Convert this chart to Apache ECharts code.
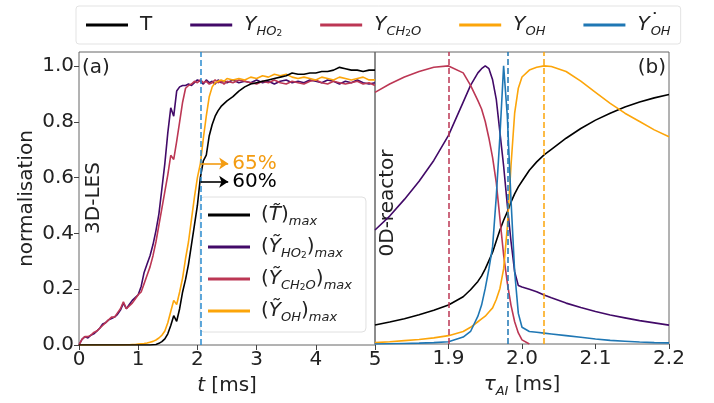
<!DOCTYPE html>
<html>
<head>
<meta charset="utf-8">
<script src="https://cdn.jsdelivr.net/npm/echarts@6/dist/echarts.min.js"></script>
<style>
  html, body { margin: 0; padding: 0; background: #fff; }
  #chart { width: 714px; height: 403px; }
</style>
</head>
<body>
<div id="chart"></div>
<script>
// ---- (a) 3D-LES: maxima of filtered fields vs time [ms] ----
const tLes = [
  0, 0.05, 0.1, 0.15, 0.2, 0.25, 0.3, 0.35, 0.4, 0.45,
  0.5, 0.55, 0.6, 0.65, 0.7, 0.75, 0.8, 0.85, 0.9, 0.95,
  1.0, 1.05, 1.1, 1.15, 1.2, 1.25, 1.3, 1.35, 1.4, 1.45,
  1.5, 1.55, 1.6, 1.65, 1.7, 1.75, 1.8, 1.85, 1.9, 1.95,
  2.0, 2.05, 2.1, 2.15, 2.2, 2.25, 2.3, 2.35, 2.4, 2.45,
  2.5, 2.6, 2.7, 2.8, 2.9, 3.0, 3.1, 3.2, 3.3, 3.4,
  3.5, 3.6, 3.7, 3.8, 3.9, 4.0, 4.1, 4.2, 4.3, 4.4,
  4.5, 4.6, 4.7, 4.8, 4.9, 5.0
];
const tempLes = [
  0, 0, 0, 0, 0, 0, 0, 0, 0, 0,
  0, 0, 0, 0, 0, 0, 0, 0, 0, 0,
  0, 0, 0, 0, 0, 0.001, 0.002, 0.006, 0.012, 0.022,
  0.04, 0.07, 0.105, 0.085, 0.13, 0.19, 0.235, 0.29, 0.36, 0.43,
  0.50, 0.60, 0.66, 0.68, 0.75, 0.79, 0.82, 0.84, 0.855, 0.865,
  0.875, 0.89, 0.91, 0.925, 0.935, 0.94, 0.945, 0.95, 0.955, 0.96,
  0.965, 0.975, 0.97, 0.97, 0.975, 0.975, 0.98, 0.98, 0.985, 0.995,
  0.99, 0.985, 0.985, 0.98, 0.985, 0.985
];
const ho2Les = [
  0, 0.02, 0.03, 0.025, 0.035, 0.04, 0.05, 0.06, 0.075, 0.08,
  0.09, 0.095, 0.10, 0.11, 0.125, 0.15, 0.13, 0.145, 0.16, 0.17,
  0.18, 0.21, 0.26, 0.29, 0.32, 0.36, 0.41, 0.47, 0.56, 0.65,
  0.76, 0.85, 0.82, 0.91, 0.925, 0.93, 0.93, 0.935, 0.93, 0.94,
  0.95, 0.945, 0.935, 0.95, 0.94, 0.945, 0.935, 0.95, 0.94, 0.945,
  0.94, 0.95, 0.94, 0.945, 0.94, 0.95, 0.94, 0.945, 0.935, 0.945,
  0.95, 0.94, 0.945, 0.94, 0.95, 0.945, 0.94, 0.95, 0.945, 0.935,
  0.945, 0.94, 0.95, 0.94, 0.935, 0.94
];
const ch2oLes = [
  0, 0.02, 0.03, 0.03, 0.035, 0.045, 0.05, 0.06, 0.07, 0.08,
  0.09, 0.10, 0.10, 0.115, 0.13, 0.155, 0.13, 0.14, 0.15, 0.165,
  0.18, 0.19, 0.22, 0.25, 0.28, 0.32, 0.37, 0.43, 0.49, 0.55,
  0.61, 0.68, 0.665, 0.73, 0.80, 0.87, 0.92, 0.93, 0.935, 0.945,
  0.94, 0.95, 0.94, 0.945, 0.935, 0.94, 0.95, 0.94, 0.945, 0.935,
  0.945, 0.94, 0.95, 0.945, 0.94, 0.935, 0.945, 0.94, 0.95, 0.94,
  0.935, 0.945, 0.94, 0.935, 0.945, 0.95, 0.94, 0.935, 0.945, 0.94,
  0.935, 0.94, 0.945, 0.935, 0.94, 0.93
];
const ohLes = [
  0, 0, 0, 0, 0, 0, 0, 0, 0, 0,
  0, 0, 0, 0, 0, 0, 0.001, 0.001, 0.002, 0.002,
  0.003, 0.004, 0.005, 0.007, 0.01, 0.013, 0.018, 0.025, 0.035, 0.05,
  0.08, 0.12, 0.16, 0.145, 0.19, 0.24, 0.31, 0.37, 0.45, 0.53,
  0.60, 0.65, 0.74, 0.82, 0.89, 0.925, 0.94, 0.945, 0.95, 0.945,
  0.955, 0.95, 0.955, 0.95, 0.96, 0.955, 0.965, 0.96, 0.97, 0.965,
  0.97, 0.96, 0.955, 0.96, 0.955, 0.95, 0.96, 0.955, 0.95, 0.96,
  0.955, 0.95, 0.955, 0.96, 0.95, 0.95
];
const tIgnLes = 2.05;          // vertical marker in (a)
const pctOH = 0.65;            // OH level at the marker
const pctT = 0.60;             // temperature level at the marker

// ---- (b) 0D reactor: normalised profiles vs auto-ignition time [ms] ----
const tauAI = [
  1.80, 1.82, 1.84, 1.86, 1.88, 1.90, 1.92, 1.93, 1.94, 1.945,
  1.95, 1.955, 1.96, 1.965, 1.97, 1.975, 1.98, 1.985, 1.99, 1.995,
  2.00, 2.01, 2.02, 2.03, 2.04, 2.06, 2.08, 2.10, 2.12, 2.14,
  2.16, 2.18, 2.20
];
const temp0D = [
  0.068, 0.079, 0.091, 0.105, 0.121, 0.14, 0.17, 0.195, 0.225, 0.245,
  0.27, 0.30, 0.33, 0.37, 0.41, 0.445, 0.475, 0.51, 0.54, 0.565,
  0.585, 0.625, 0.655, 0.68, 0.70, 0.74, 0.775, 0.805, 0.83, 0.852,
  0.87, 0.885, 0.897
];
const ho20D = [
  0.41, 0.46, 0.52, 0.585, 0.66, 0.75, 0.87, 0.93, 0.975, 0.99,
  1.0, 0.99, 0.95, 0.88, 0.76, 0.64, 0.50, 0.37, 0.26, 0.21,
  0.205, 0.197, 0.188, 0.176, 0.166, 0.147, 0.131, 0.117, 0.104, 0.094,
  0.084, 0.076, 0.068
];
const ch2o0D = [
  0.905, 0.935, 0.96, 0.98, 0.995, 1.0, 0.975, 0.93, 0.875, 0.845,
  0.80, 0.74, 0.67, 0.58, 0.45, 0.32, 0.22, 0.14, 0.08, 0.04,
  0.015, 0.0, null, null, null, null, null, null, null, null,
  null, null, null
];
const oh0D = [
  0.005, 0.008, 0.012, 0.016, 0.022, 0.03, 0.045, 0.06, 0.08, 0.09,
  0.10, 0.115, 0.13, 0.16, 0.20, 0.27, 0.42, 0.64, 0.83, 0.92,
  0.96, 0.985, 0.995, 1.0, 0.998, 0.98, 0.945, 0.905, 0.865, 0.83,
  0.80, 0.77, 0.745
];
const ohStar0D = [
  0.0, 0.001, 0.002, 0.003, 0.005, 0.008, 0.025, 0.045, 0.10, 0.14,
  0.20, 0.27, 0.35, 0.53, 0.75, 1.0, 0.82, 0.52, 0.26, 0.11,
  0.06, 0.045, 0.042, 0.039, 0.036, 0.03, 0.024, 0.018, 0.013, 0.01,
  0.007, 0.005, 0.004
];
const peakCH2O = 1.9, peakOHstar = 1.975, peakOH = 2.03;

// ---- tick labels ----
const yTicks = [0, 0.2, 0.4, 0.6, 0.8, 1.0];
const xTicksB = [1.9, 2.0, 2.1, 2.2];

const F = 'DejaVu Sans';
const C = { T: '#000000', HO2: '#420a68', CH2O: '#bc3754', OH: '#fca50a', OHs: '#1f77b4' };

const rich = {
  up:   { fontFamily: F, fontSize: 20, lineHeight: 26, color: '#222' },
  it:   { fontFamily: F, fontSize: 20, lineHeight: 26, fontStyle: 'italic', color: '#222' },
  sub:  { fontFamily: F, fontSize: 13, lineHeight: 14, fontStyle: 'italic', verticalAlign: 'bottom', color: '#222' },
  sub2: { fontFamily: F, fontSize: 9, lineHeight: 10, verticalAlign: 'bottom', color: '#222' },
  dot:  { fontFamily: F, fontSize: 20, lineHeight: 20, width: 1, verticalAlign: 'top', color: '#222' }
};

const labels = {
  'T': '{up|T}',
  'HO2': '{it|Y}{sub|HO}{sub2|2}',
  'CH2O': '{it|Y}{sub|CH}{sub2|2}{sub|O}',
  'OH': '{it|Y}{sub|OH}',
  'OHs': '{it|Y}{dot|˙}{sub|OH}',
  'T_les': '{up|(}{it|T\u0303}{up|)}{sub|max}',
  'HO2_les': '{up|(}{it|\u1EF8}{sub|HO}{sub2|2}{up|)}{sub|max}',
  'CH2O_les': '{up|(}{it|\u1EF8}{sub|CH}{sub2|2}{sub|O}{up|)}{sub|max}',
  'OH_les': '{up|(}{it|\u1EF8}{sub|OH}{up|)}{sub|max}'
};

const pairs = (xs, ys) => xs.map((x, i) => [x, ys[i]]);

function lineSeries(name, color, xs, ys, axis, extra) {
  return Object.assign({
    name: name, type: 'line', xAxisIndex: axis, yAxisIndex: axis,
    data: pairs(xs, ys), symbol: 'none', showSymbol: false, connectNulls: false,
    lineStyle: { color: color, width: 1.6 }, itemStyle: { color: color },
    emphasis: { disabled: true }
  }, extra || {});
}

function vLine(x, color) {
  return {
    symbol: 'none', silent: true, animation: false,
    label: { show: false },
    lineStyle: { color: color, type: 'dashed', width: 1.5 },
    data: [{ xAxis: x }]
  };
}

function arrow(y, text, color) {
  return {
    symbol: ['none', 'arrow'], symbolSize: 9, silent: true, animation: false,
    lineStyle: { color: color, type: 'solid', width: 1.6 },
    label: { show: true, position: 'end', formatter: text, color: color, fontSize: 20, fontFamily: F, distance: 4 },
    data: [[{ coord: [tIgnLes, y] }, { coord: [tIgnLes + 0.47, y] }]]
  };
}

const series = [
  lineSeries('HO2_les', C.HO2, tLes, ho2Les, 0, { markLine: vLine(tIgnLes, '#2b8cd0') }),
  lineSeries('CH2O_les', C.CH2O, tLes, ch2oLes, 0),
  lineSeries('OH_les', C.OH, tLes, ohLes, 0, { markLine: arrow(pctOH, '65%', '#f39c12') }),
  lineSeries('T_les', C.T, tLes, tempLes, 0, { markLine: arrow(pctT - 0.015, '60%', '#000') }),

  lineSeries('T', C.T, tauAI, temp0D, 1),
  lineSeries('HO2', C.HO2, tauAI, ho20D, 1),
  lineSeries('CH2O', C.CH2O, tauAI, ch2o0D, 1, { markLine: vLine(peakCH2O, C.CH2O) }),
  lineSeries('OH', C.OH, tauAI, oh0D, 1, { markLine: vLine(peakOH, C.OH) }),
  lineSeries('OHs', C.OHs, tauAI, ohStar0D, 1, { markLine: vLine(peakOHstar, C.OHs) })
];

const tickLabel = { fontFamily: F, fontSize: 20, color: '#222', margin: 5 };
const tick = { show: true, length: 5, lineStyle: { color: '#444' } };

const option = {
  animation: false,
  backgroundColor: '#fff',
  textStyle: { fontFamily: F },
  grid: [
    { left: 79, top: 52, width: 296, height: 293, show: true, borderColor: '#666', borderWidth: 1 },
    { left: 375, top: 52, width: 294, height: 293, show: true, borderColor: '#666', borderWidth: 1 }
  ],
  xAxis: [
    {
      gridIndex: 0, type: 'value', min: 0, max: 5, interval: 1,
      axisLine: { show: false }, splitLine: { show: false }, axisTick: tick,
      axisLabel: tickLabel,
      name: '{it|t}{up| [ms]}', nameLocation: 'middle', nameGap: 28,
      nameTextStyle: { rich: rich }
    },
    {
      gridIndex: 1, type: 'value', min: 1.8, max: 2.2,
      axisLine: { show: false }, splitLine: { show: false },
      axisTick: Object.assign({ customValues: xTicksB }, tick),
      axisLabel: Object.assign({ customValues: xTicksB, formatter: v => v.toFixed(1) }, tickLabel),
      name: '{it|τ}{sub|AI}{up| [ms]}', nameLocation: 'middle', nameGap: 28,
      nameTextStyle: { rich: rich }
    }
  ],
  yAxis: [
    {
      gridIndex: 0, type: 'value', min: 0, max: 1.05,
      axisLine: { show: false }, splitLine: { show: false },
      axisTick: Object.assign({ customValues: yTicks }, tick),
      axisLabel: Object.assign({ customValues: yTicks, formatter: v => v.toFixed(1) }, tickLabel),
      name: 'normalisation', nameLocation: 'middle', nameGap: 42,
      nameTextStyle: { fontFamily: F, fontSize: 20, color: '#222' }
    },
    {
      gridIndex: 1, type: 'value', min: 0, max: 1.05,
      axisLine: { show: false }, splitLine: { show: false },
      axisTick: { show: false }, axisLabel: { show: false }
    }
  ],
  legend: [
    {
      data: ['T', 'HO2', 'CH2O', 'OH', 'OHs'],
      left: 76, top: 6, icon: 'rect', itemWidth: 42, itemHeight: 3, itemGap: 38,
      selectedMode: false,
      formatter: n => labels[n],
      textStyle: { rich: rich, padding: [0, 0, 0, 7] },
      borderColor: '#e3e3e3', borderWidth: 1, borderRadius: 3, padding: [6, 10, 6, 10]
    },
    {
      data: ['T_les', 'HO2_les', 'CH2O_les', 'OH_les'],
      orient: 'vertical', left: 200, top: 197, icon: 'rect', itemWidth: 42, itemHeight: 3, itemGap: 9,
      selectedMode: false,
      formatter: n => labels[n],
      textStyle: { rich: rich, padding: [0, 0, 0, 6] },
      backgroundColor: 'rgba(255,255,255,0.85)',
      borderColor: '#e0e0e0', borderWidth: 1, borderRadius: 4, padding: [8, 14, 8, 8]
    }
  ],
  graphic: [
    { type: 'text', left: 82, top: 58, style: { text: '(a)', font: '20px "DejaVu Sans"', fill: '#222' } },
    { type: 'text', right: 48, top: 58, style: { text: '(b)', font: '20px "DejaVu Sans"', fill: '#222' } },
    { type: 'text', x: 94, y: 198, rotation: Math.PI / 2,
      style: { text: '3D-LES', font: '20px "DejaVu Sans"', fill: '#222', align: 'center', verticalAlign: 'middle' } },
    { type: 'text', x: 388, y: 203, rotation: Math.PI / 2,
      style: { text: '0D-reactor', font: '20px "DejaVu Sans"', fill: '#222', align: 'center', verticalAlign: 'middle' } }
  ],
  series: series
};

const chart = echarts.init(document.getElementById('chart'), null, { renderer: 'canvas' });
chart.setOption(option);
</script>
</body>
</html>
